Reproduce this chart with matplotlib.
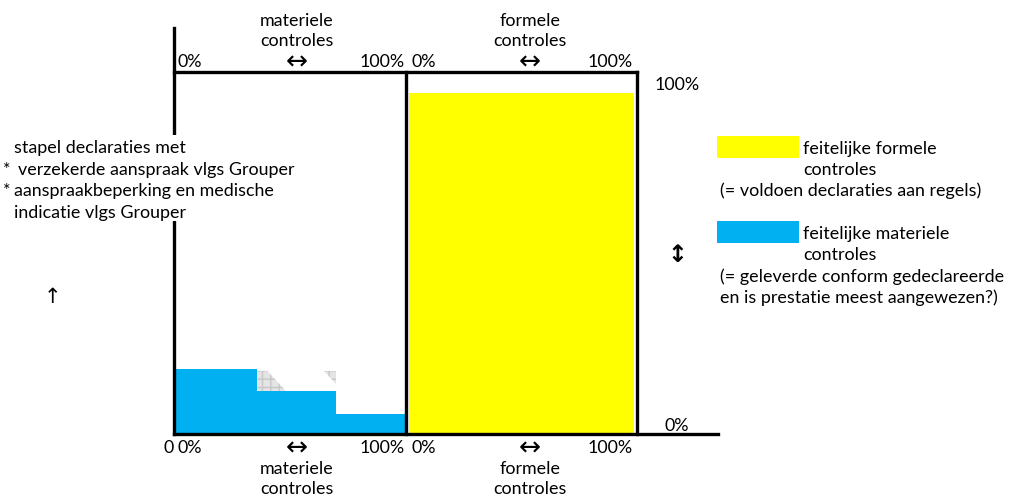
import matplotlib
matplotlib.use("Agg")
import matplotlib.pyplot as plt
import numpy as np
from matplotlib.patches import Polygon, Rectangle
from matplotlib.lines import Line2D

# ---- data ----
mat_edges = [0, 36, 70, 100]          # % of materiele controles (cumulative)
mat_heights = [19, 12.5, 6]           # % of stack
form_width = 100                      # % of formele controles
form_height = 100                     # % of stack
top_ticks = ["0%", "\u2194", "100%"]
axis_titles = ["materiele\ncontroles", "formele\ncontroles"]
legend_labels = ["feitelijke formele\ncontroles", "(= voldoen declaraties aan regels)",
                 "feitelijke materiele\ncontroles",
                 "(= geleverde conform gedeclareerde\nen is prestatie meest aangewezen?)"]
left_text = ["stapel declaraties met",
             "verzekerde aanspraak vlgs Grouper",
             "aanspraakbeperking en medische",
             "indicatie vlgs Grouper"]

YELLOW = "#FFFF00"
BLUE = "#00B0F0"
W, H = 1014, 497
FONT = "Lato"
FS = 12.9
AFS = 19

fig = plt.figure(figsize=(W / 100, H / 100), dpi=100)
plt.rcParams['font.family'] = [FONT, 'DejaVu Sans']

def fx(px):
    return px / W

def fy(py):
    return 1 - py / H

# axes over the box region
x0, x1, yb, yt = 174, 637, 434, 72
ax = fig.add_axes([fx(x0), fy(yb), fx(x1) - fx(x0), fy(yt) - fy(yb)])
y100 = 93
ytop = 100 * (yb - yt) / (yb - y100)
ax.set_xlim(0, 200)
ax.set_ylim(0, ytop)
ax.axis("off")

# materiele steps
ax.bar(mat_edges[:-1], mat_heights, width=np.diff(mat_edges), align="edge",
       color=BLUE, linewidth=0, zorder=2)
# shadow artefacts (light grey grid)
h0, h1, h2 = mat_heights
e1, e2 = mat_edges[1], mat_edges[2]
shade1 = Polygon([(e1, h0 - 0.5), (e1 + 4.3, h0 - 0.5), (e1 + 12.5, h1), (e1, h1)],
                 closed=True, facecolor="#e4e4e4", edgecolor="#c8c8c8", hatch="++",
                 linewidth=0, zorder=1)
shade2 = Polygon([(e2 - 5, h0 - 0.5), (e2, h0 - 0.5), (e2, h0 - 4.2)], closed=True,
                 facecolor="#e4e4e4", edgecolor="#c8c8c8", hatch="++", linewidth=0, zorder=1)
ax.add_patch(shade1)
ax.add_patch(shade2)

# formele bar
inset = 1.3
ax.bar(100 + inset, form_height, width=form_width - 2 * inset, align="edge",
       color=YELLOW, linewidth=0, zorder=2)

# frame lines (figure pixel coords)
LW = 2.4
def pline(xs, ys, **kw):
    fig.add_artist(Line2D([fx(v) for v in xs], [fy(v) for v in ys], color="black",
                          linewidth=LW, solid_capstyle="projecting", zorder=2, **kw))

pline([174, 174], [28, 434])
pline([174, 637], [72, 72])
pline([406, 406], [72, 434])
pline([637, 637], [72, 434])
pline([174, 718], [434, 434])

def t(px, py, s, **kw):
    kw.setdefault("fontsize", FS)
    kw.setdefault("va", "center")
    kw.setdefault("zorder", 5)
    return fig.text(fx(px), fy(py), s, **kw)

# tick texts
for ty in (62, 448):
    t(177, ty, top_ticks[0], ha="left")
    t(297, ty + 1, top_ticks[1], ha="center", family=["DejaVu Sans"], fontsize=AFS)
    t(405, ty, top_ticks[2], ha="right")
    t(411, ty, top_ticks[0], ha="left")
    t(530, ty + 1, top_ticks[1], ha="center", family=["DejaVu Sans"], fontsize=AFS)
    t(633, ty, top_ticks[2], ha="right")
t(169, 448, "0", ha="center")

for ty in (31, 479):
    t(297, ty, axis_titles[0], ha="center", linespacing=1.35)
    t(530, ty, axis_titles[1], ha="center", linespacing=1.35)

# right side labels
t(677, 85, "100%", ha="center")
t(677, 426, "0%", ha="center")
t(677, 255, "\u2195", ha="center", family=["DejaVu Sans"], fontsize=17,
  fontweight="bold")

# legend
for (py, col) in ((136, YELLOW), (221, BLUE)):
    fig.add_artist(Rectangle((fx(717), fy(py + 22)), fx(799) - fx(717), fy(py) - fy(py + 22),
                             facecolor=col, edgecolor="none"))
t(803, 159.5, legend_labels[0], ha="left", linespacing=1.35)
t(720, 191, legend_labels[1], ha="left")
t(803, 244.5, legend_labels[2], ha="left", linespacing=1.35)
t(720, 287, legend_labels[3], ha="left", linespacing=1.35)

# left description with white background breaking the axis line
fig.add_artist(Rectangle((0, fy(221)), fx(292), fy(135) - fy(221),
                         facecolor="white", edgecolor="none", zorder=4))
t(14, 148, left_text[0], ha="left")
t(3, 170, "*", ha="left")
t(18, 170, left_text[1], ha="left")
t(3, 191, "*", ha="left")
t(14, 191, left_text[2], ha="left")
t(14, 213, left_text[3], ha="left")
t(52, 297, "\u2191", ha="center", family=["DejaVu Sans"], fontsize=15)

fig.savefig("out.png", dpi=100, facecolor="white")
